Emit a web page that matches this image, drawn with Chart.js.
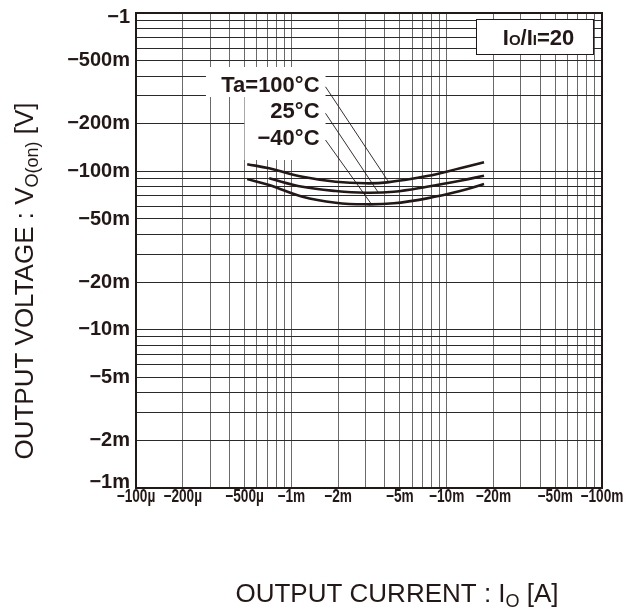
<!DOCTYPE html>
<html>
<head>
<meta charset="utf-8">
<script src="https://cdn.jsdelivr.net/npm/chart.js@4.4.1/dist/chart.umd.min.js"></script>
<style>
  html, body { margin: 0; padding: 0; background: #fff; }
  canvas { display: block; }
</style>
</head>
<body>
<canvas id="c" width="626" height="612"></canvas>
<script>
// ---------- data ----------
const xTickValues = [1e-4, 2e-4, 5e-4, 1e-3, 2e-3, 5e-3, 1e-2, 2e-2, 5e-2, 1e-1];
const xTickLabels = ['−100µ', '−200µ', '−500µ', '−1m', '−2m', '−5m', '−10m', '−20m', '−50m', '−100m'];
const yTickValues = [1e-3, 2e-3, 5e-3, 1e-2, 2e-2, 5e-2, 0.1, 0.2, 0.5, 1];
const yTickLabels = ['−1m', '−2m', '−5m', '−10m', '−20m', '−50m', '−100m', '−200m', '−500m', '−1'];

// output current magnitude [A] and output voltage magnitude [V]
const ta100Current = [0.52e-3, 0.72e-3, 1.18e-3, 1.93e-3, 3.0e-3, 4.14e-3, 7.47e-3, 12.2e-3, 17.4e-3];
const ta100Voltage = [0.111, 0.1045, 0.0924, 0.086, 0.084, 0.0852, 0.0934, 0.1045, 0.114];
const ta25Current  = [0.72e-3, 1.18e-3, 1.93e-3, 3.0e-3, 4.56e-3, 7.47e-3, 12.2e-3, 17.4e-3];
const ta25Voltage  = [0.0903, 0.0799, 0.0751, 0.0732, 0.0743, 0.0799, 0.0872, 0.0938];
const taM40Current = [0.52e-3, 0.72e-3, 1.18e-3, 1.93e-3, 3.0e-3, 4.56e-3, 7.47e-3, 12.2e-3, 17.4e-3];
const taM40Voltage = [0.0894, 0.0819, 0.0691, 0.0634, 0.0619, 0.0628, 0.0675, 0.0751, 0.0831];

const seriesNames = ['Ta=100°C', '25°C', '−40°C'];
// leader lines: start (label end) and end (on curve), in data units
const leaderStartCurrent = [1.66e-3, 1.66e-3, 1.66e-3];
const leaderStartVoltage = [0.342, 0.2325, 0.1577];
const leaderEndCurrent   = [4.22e-3, 3.64e-3, 3.31e-3];
const leaderEndVoltage   = [0.086, 0.0732, 0.0612];

const conditionText = ['I', 'O', '/I', 'I', '=20'];

// ---------- styling ----------
const INK = '#231815';
const pts = (xs, ys) => xs.map((x, i) => ({ x: x, y: ys[i] }));

function allLogTicks(min, max) {
  const out = [];
  for (let d = min; d < max * 0.999; d *= 10) {
    for (let k = 1; k <= 9; k++) out.push(Number((k * d).toPrecision(3)));
  }
  out.push(max);
  return out;
}
function labelFor(values, labels, v) {
  for (let i = 0; i < values.length; i++) {
    if (Math.abs(values[i] - v) / values[i] < 1e-6) return labels[i];
  }
  return '';
}

// condensed rendering of the x tick labels (narrow bold face as in the reference)
const X_CONDENSE = 0.76;
function patchXLabels(s) {
  if (s._condensed) return;
  s._condensed = true;
  const orig = s.drawLabels.bind(s);
  s.drawLabels = function (area) {
    const c = this.ctx;
    const of = c.fillText;
    c.fillText = function (t, x, y, mw) {
      this.save(); this.scale(X_CONDENSE, 1); of.call(this, t, x / X_CONDENSE, y); this.restore();
    };
    try { orig(area); } finally { c.fillText = of; }
  };
}
// keep the end y labels inside the frame like the reference
function patchYLabels(s) {
  if (s._clamped) return;
  s._clamped = true;
  const orig = s.drawLabels.bind(s);
  s.drawLabels = function (area) {
    const c = this.ctx, top = this.top, bottom = this.bottom;
    const of = c.fillText;
    c.fillText = function (t, x, y, mw) {
      const abs = this.getTransform().f + y;
      let dy = 0;
      if (abs < top + 4) dy = top + 4 - abs;
      if (abs > bottom - 6) dy = bottom - 6 - abs;
      of.call(this, t, x, y + dy);
    };
    try { orig(area); } finally { c.fillText = of; }
  };
}

const curveStyle = { borderColor: INK, borderWidth: 2.6, pointRadius: 0, tension: 0.4, fill: false };
const leaderStyle = { borderColor: INK, borderWidth: 0.9, pointRadius: 0, tension: 0, fill: false };

const datasets = [
  Object.assign({ label: seriesNames[0], data: pts(ta100Current, ta100Voltage) }, curveStyle),
  Object.assign({ label: seriesNames[1], data: pts(ta25Current, ta25Voltage) }, curveStyle),
  Object.assign({ label: seriesNames[2], data: pts(taM40Current, taM40Voltage) }, curveStyle),
];
for (let i = 0; i < 3; i++) {
  datasets.push(Object.assign({
    label: 'leader ' + seriesNames[i],
    data: [{ x: leaderStartCurrent[i], y: leaderStartVoltage[i] }, { x: leaderEndCurrent[i], y: leaderEndVoltage[i] }]
  }, leaderStyle));
}

function drawParts(ctx, parts, cx, y) {
  let total = 0;
  parts.forEach(p => { ctx.font = p.font; p.w = ctx.measureText(p.t).width; total += p.w; });
  let x = cx - total / 2;
  ctx.textAlign = 'left';
  parts.forEach(p => { ctx.font = p.font; ctx.fillText(p.t, x, y + (p.dy || 0)); x += p.w; });
}

const decorPlugin = {
  id: 'decor',
  beforeDatasetsDraw(chart) {
    const ctx = chart.ctx, xs = chart.scales.x, ys = chart.scales.y;
    const X = v => xs.getPixelForValue(v), Y = v => ys.getPixelForValue(v);
    ctx.save();
    ctx.fillStyle = '#fff';
    // white areas behind temperature labels
    const bx1 = X(2.82e-4), bx2 = X(1.66e-3), bx3 = X(5.0e-4);
    const by1 = Y(0.456), by2 = Y(0.2946), by3 = Y(0.1179);
    ctx.fillRect(bx1, by1, bx2 - bx1, by2 - by1);
    ctx.fillRect(bx3, by2 - 1, bx2 - bx3, by3 - by2 + 1);
    // labels
    ctx.fillStyle = INK;
    ctx.font = 'bold 22px "Liberation Sans", Arial, sans-serif';
    ctx.textAlign = 'right';
    ctx.textBaseline = 'middle';
    for (let i = 0; i < 3; i++) {
      ctx.fillText(seriesNames[i], X(leaderStartCurrent[i]) - 6, Y(leaderStartVoltage[i]) - 1);
    }
    // condition box
    const cx1 = X(15.5e-3), cx2 = X(87.4e-3), cy1 = Y(0.9164), cy2 = Y(0.5508);
    ctx.fillStyle = '#fff';
    ctx.fillRect(cx1, cy1, cx2 - cx1, cy2 - cy1);
    ctx.strokeStyle = INK;
    ctx.lineWidth = 1;
    ctx.strokeRect(Math.round(cx1) + 0.5, Math.round(cy1) + 0.5, Math.round(cx2 - cx1), Math.round(cy2 - cy1));
    ctx.fillStyle = INK;
    ctx.textBaseline = 'alphabetic';
    const big = 'bold 22px "Liberation Sans", Arial, sans-serif';
    const small = 'bold 15px "Liberation Sans", Arial, sans-serif';
    drawParts(ctx, [
      { t: conditionText[0], font: big }, { t: conditionText[1], font: small },
      { t: conditionText[2], font: big }, { t: conditionText[3], font: small },
      { t: conditionText[4], font: big }
    ], (cx1 + cx2) / 2 + 4, (cy1 + cy2) / 2 + 8);
    ctx.restore();
  },
  afterDraw(chart) {
    const ctx = chart.ctx, a = chart.chartArea;
    ctx.save();
    ctx.strokeStyle = INK;
    ctx.lineWidth = 2;
    ctx.strokeRect(a.left, a.top, a.right - a.left, a.bottom - a.top);
    // axis titles
    ctx.fillStyle = INK;
    ctx.textBaseline = 'alphabetic';
    const tf = '26px "Liberation Sans", Arial, sans-serif';
    const sf = '18px "Liberation Sans", Arial, sans-serif';
    drawParts(ctx, [
      { t: 'OUTPUT CURRENT : I', font: tf }, { t: 'O', font: sf, dy: 5 }, { t: ' [A]', font: tf }
    ], 397, 602);
    ctx.translate(33, 281);
    ctx.rotate(-Math.PI / 2);
    drawParts(ctx, [
      { t: 'OUTPUT VOLTAGE : V', font: tf }, { t: 'O(on)', font: sf, dy: 5 }, { t: ' [V]', font: tf }
    ], 0, 0);
    ctx.restore();
  }
};

new Chart(document.getElementById('c'), {
  type: 'line',
  data: { datasets: datasets },
  options: {
    responsive: false,
    devicePixelRatio: 1,
    animation: false,
    layout: { padding: { top: 13, right: 24, left: 0, bottom: 0 } },
    plugins: { legend: { display: false }, tooltip: { enabled: false } },
    scales: {
      x: {
        type: 'logarithmic', min: 1e-4, max: 0.1,
        afterBuildTicks: s => { s.ticks = allLogTicks(1e-4, 0.1).map(v => ({ value: v })); },
        afterFit: s => { s.height = 124; s.paddingLeft = 0; s.paddingRight = 0; patchXLabels(s); },
        grid: { color: '#6a6a6a', lineWidth: 1, drawTicks: false },
        border: { display: false },
        ticks: {
          autoSkip: false, maxRotation: 0, minRotation: 0, padding: -2, color: INK,
          font: { family: '"Liberation Sans", Arial, sans-serif', weight: 'bold', size: 18 },
          callback: v => labelFor(xTickValues, xTickLabels, v)
        }
      },
      y: {
        type: 'logarithmic', min: 1e-3, max: 1,
        afterBuildTicks: s => { s.ticks = allLogTicks(1e-3, 1).map(v => ({ value: v })); },
        afterFit: s => { s.width = 136; s.paddingTop = 0; s.paddingBottom = 0; patchYLabels(s); },
        grid: { color: '#2a2a2a', lineWidth: 1, drawTicks: false },
        border: { display: false },
        ticks: {
          autoSkip: false, padding: 6, color: INK,
          font: { family: '"Liberation Sans", Arial, sans-serif', weight: 'bold', size: 20 },
          callback: v => labelFor(yTickValues, yTickLabels, v)
        }
      }
    }
  },
  plugins: [decorPlugin]
});
</script>
</body>
</html>
